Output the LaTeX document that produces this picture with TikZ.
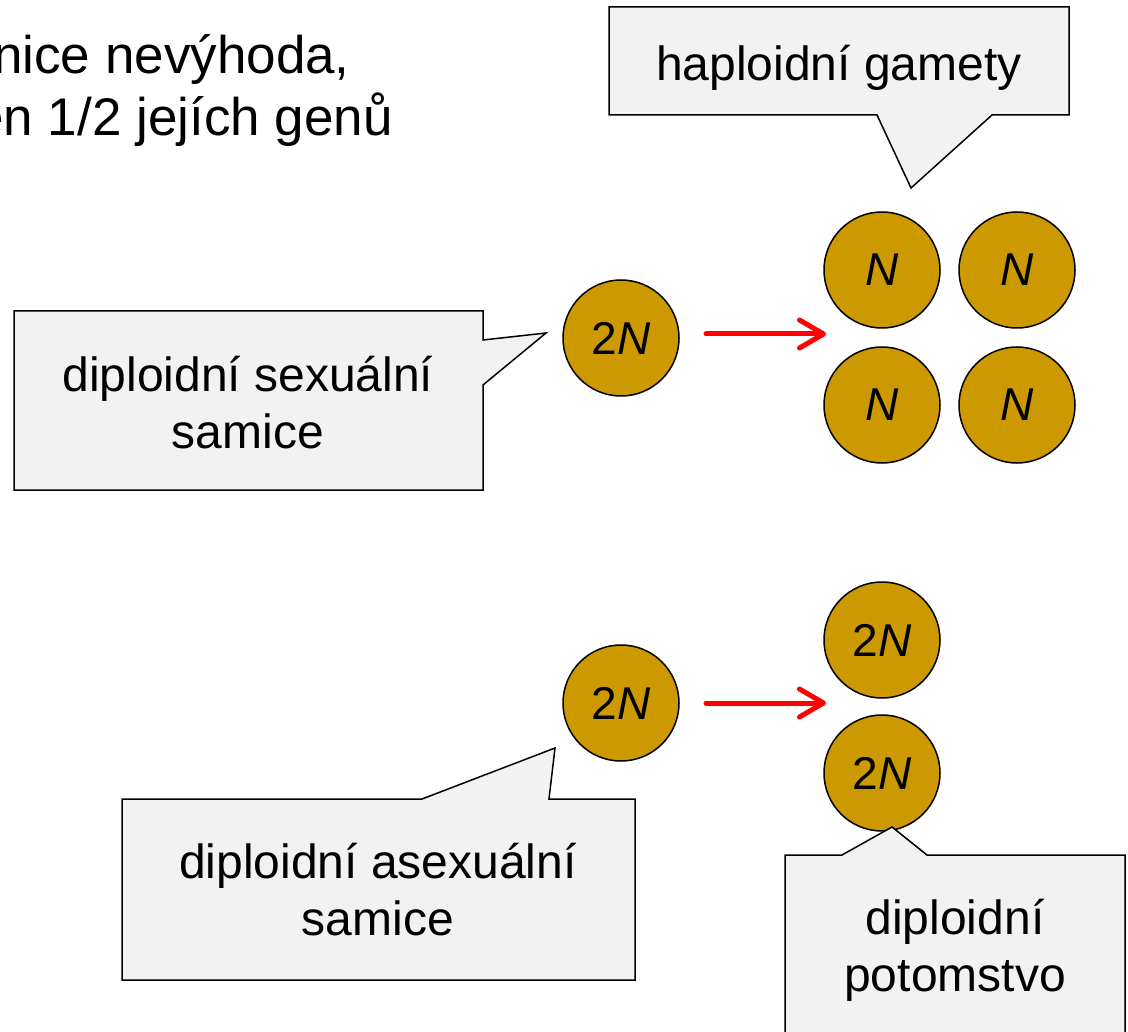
\documentclass[tikz,border=0pt]{standalone}
\usepackage{fontspec}
\setmainfont{Liberation Sans}
\usetikzlibrary{arrows.meta}
\definecolor{gold}{HTML}{CC9900}
\definecolor{callfill}{HTML}{F2F2F2}
\definecolor{arrred}{HTML}{FF0000}
\begin{document}
\begin{tikzpicture}[x=1pt,y=-1pt,
  cell/.style={circle,draw=black,line width=1.5pt,fill=gold,minimum size=116pt,inner sep=0pt,
    font=\fontsize{46}{46}\selectfont},
  callout/.style={draw=black,line width=1.5pt,fill=callfill,line join=miter},
  calltext/.style={align=center,font=\fontsize{48}{57}\selectfont,inner sep=0pt,anchor=center},
  bigtext/.style={font=\fontsize{53}{53}\selectfont,inner sep=0pt,anchor=base east},
  redarrow/.style={draw=arrred,line width=5pt,line cap=round,
    -{Straight Barb[length=24pt,width=28pt,line cap=round,line join=round]}}]
\useasboundingbox (0,0) rectangle (1128,1032);
\fill[white] (0,0) rectangle (1128,1032);

% top text (cut at the left edge)
\node[bigtext] (line1) at (350,74) {nice nevýhoda,};
\node[bigtext] (line2) at (393,136) {en 1/2 jejích genů};

% sexual row
\node[cell] (s2n) at (621,338) {2\textit{N}};
\node[cell] (g1) at (882,270) {\textit{N}};
\node[cell] (g2) at (1017,270) {\textit{N}};
\node[cell] (g3) at (882,405) {\textit{N}};
\node[cell] (g4) at (1017,405) {\textit{N}};
\coordinate (a1s) at (706,334);
\coordinate (a1e) at (826,334);
\draw[redarrow] (a1s) -- (a1e);

% asexual row
\node[cell] (a2n) at (621,703) {2\textit{N}};
\node[cell] (o1) at (882,640) {2\textit{N}};
\node[cell] (o2) at (882,773) {2\textit{N}};
\coordinate (a2s) at (706,703);
\coordinate (a2e) at (826,703);
\draw[redarrow] (a2s) -- (a2e);

% callouts
\draw[callout] (609,7) -- (1069,7) -- (1069,115) -- (992,115) -- (911,188) -- (877,115) -- (609,115) -- cycle;
\node[calltext,anchor=base] (tgam) at (839,81) {haploidní gamety};

\draw[callout] (14,311) -- (483,311) -- (483,340) -- (546,333) -- (483,385) -- (483,490) -- (14,490) -- cycle;
\node[calltext] (tsex) at (248,403) {diploidní sexuální\\samice};

\draw[callout] (122,799) -- (422,799) -- (555,748) -- (549,799) -- (635,799) -- (635,980) -- (122,980) -- cycle;
\node[calltext] (tasex) at (378,890) {diploidní asexuální\\samice};

\draw[callout] (785,1045) -- (785,855) -- (842,855) -- (892,827) -- (927,855) -- (1125,855) -- (1125,1045);
\node[calltext] (toff) at (955,950) {diploidní\\potomstvo};
\end{tikzpicture}
\end{document}
